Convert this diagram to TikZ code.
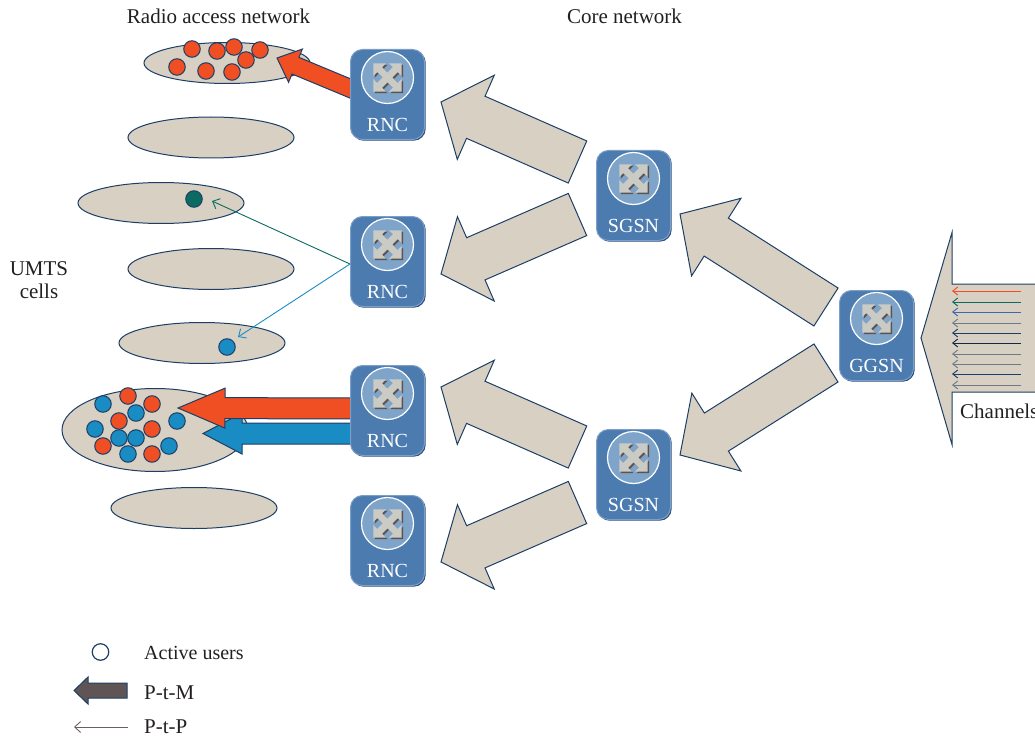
\documentclass[tikz,border=0pt]{standalone}
\usepackage{fontspec}
\setmainfont{Liberation Serif}
\usetikzlibrary{arrows.meta,backgrounds,calc,shadows,shapes.geometric}

\definecolor{cellbeige}{HTML}{D8D0C3}
\definecolor{navyline}{HTML}{1D3F66}
\definecolor{boxblue}{HTML}{4C7BB0}
\definecolor{boxedge}{HTML}{7C9FC8}
\definecolor{boxdark}{HTML}{284A78}
\definecolor{discblue}{HTML}{7FA4CA}
\definecolor{glyphlight}{HTML}{CBCBC5}
\definecolor{glyphdark}{HTML}{5E5250}
\definecolor{userred}{HTML}{F04E23}
\definecolor{userblue}{HTML}{1A8CC4}
\definecolor{userteal}{HTML}{0B6B62}
\definecolor{chanblue}{HTML}{3F66B0}
\definecolor{changrey}{HTML}{6E7B87}
\definecolor{channavy}{HTML}{14284A}
\definecolor{legendgrey}{HTML}{5F5555}
\definecolor{legendthin}{HTML}{6B5E5E}
\definecolor{textgrey}{HTML}{231F20}

\tikzset{
  every node/.style={font=\fontsize{20}{24}\selectfont, text=textgrey},
  bigtext/.style={font=\fontsize{21}{23}\selectfont, inner sep=0pt},
  cell/.style={ellipse, draw=navyline, fill=cellbeige, line width=1pt, inner sep=0pt, minimum width=166pt, minimum height=41pt},
  bigcell/.style={cell, minimum width=186pt, minimum height=83pt},
  udot/.style={circle, draw=navyline, line width=1pt, inner sep=0pt, minimum size=16.5pt},
  netbox/.style={rectangle, rounded corners=12pt, draw=boxedge, fill=boxblue, line width=1pt, inner sep=0pt, minimum width=74pt, minimum height=90pt,
    drop shadow={shadow xshift=1.2pt, shadow yshift=-1.2pt, fill=boxdark, opacity=1}},
  netlabel/.style={anchor=south, yshift=7pt, text=white, inner sep=1pt},
  netdisc/.style={circle, draw=white, fill=discblue, line width=1.2pt, inner sep=0pt, minimum size=52pt},
  blockarrow/.style={draw=navyline, fill=cellbeige, line width=1pt, line join=miter},
  thinarrow/.style={line width=0.9pt, -{Straight Barb[length=6pt, width=11pt]}},
  chanarrow/.style={line width=0.9pt, -{Straight Barb[length=5pt, width=8pt]}},
  crossglyph/.pic={
    \fill[pic actions, rotate=45] (3.5,-3.5) -- (11,-3.5) -- (11,-9) -- (20,0) -- (11,9) -- (11,3.5) -- (3.5,3.5)
      -- (3.5,11) -- (9,11) -- (0,20) -- (-9,11) -- (-3.5,11) -- (-3.5,3.5)
      -- (-11,3.5) -- (-11,9) -- (-20,0) -- (-11,-9) -- (-11,-3.5) -- (-3.5,-3.5)
      -- (-3.5,-11) -- (-9,-11) -- (0,-20) -- (9,-11) -- (3.5,-11) -- cycle;
  }
}

% name, position, text
\newcommand{\netnode}[3]{
  \node[netbox, label={[netlabel]south:#3}] (#1) at (#2) {};
  \node[netdisc] (#1disc) at ([yshift=17pt]#1.center) {};
  \pic[fill=glyphdark] at ([xshift=1.5pt, yshift=-1.5pt]#1disc.center) {crossglyph};
  \pic[fill=glyphlight] at (#1disc.center) {crossglyph};
}

% style, tail, tip, half shaft, half head, head length
\newcommand{\bigarrow}[6]{
  \begin{scope}[on background layer]
  \coordinate (headbase) at ($(#3)!#6pt!(#2)$);
  \draw[#1] (#3) -- ($(headbase)!#5pt!90:(#3)$) -- ($(headbase)!#4pt!90:(#3)$)
    -- ($(#2)!#4pt!90:(#3)$) -- ($(#2)!#4pt!-90:(#3)$)
    -- ($(headbase)!#4pt!-90:(#3)$) -- ($(headbase)!#5pt!-90:(#3)$) -- cycle;
  \end{scope}
}

\begin{document}
\begin{tikzpicture}[x=1pt, y=-1pt]
\useasboundingbox (0,0) rectangle (1035,738);
\clip (0,0) rectangle (1035,738);

% Draw the network elements
\netnode{rncA}{387.5,94.5}{RNC}
\netnode{rncB}{387.5,261.5}{RNC}
\netnode{rncC}{387.5,410.5}{RNC}
\netnode{rncD}{387.5,540.5}{RNC}
\netnode{sgsnA}{633.5,195.5}{SGSN}
\netnode{sgsnB}{633.5,474.5}{SGSN}
\netnode{ggsn}{876.5,335.5}{GGSN}

% Draw the cells and the active users
\begin{scope}[on background layer]
\node[cell] (cellA) at (227,63) {};
\node[cell] (cellB) at (211,137.5) {};
\node[cell] (cellC) at (161,203) {};
\node[cell] (cellD) at (211,269) {};
\node[cell] (cellE) at (202,343) {};
\node[bigcell] (cellF) at (155,430) {};
\node[cell] (cellG) at (194,508) {};
\node[udot, fill=userred] (uA1) at (192,49) {};
\node[udot, fill=userred] (uA2) at (217,51) {};
\node[udot, fill=userred] (uA3) at (234,47) {};
\node[udot, fill=userred] (uA4) at (260,50) {};
\node[udot, fill=userred] (uA5) at (246,60) {};
\node[udot, fill=userred] (uA6) at (177,67) {};
\node[udot, fill=userred] (uA7) at (206,71) {};
\node[udot, fill=userred] (uA8) at (232,72) {};
\node[udot, fill=userteal] (uC1) at (194,199) {};
\node[udot, fill=userblue] (uE1) at (227,347) {};
\node[udot, fill=userblue] (uF1) at (103,404) {};
\node[udot, fill=userred] (uF2) at (128,396) {};
\node[udot, fill=userred] (uF3) at (152,404) {};
\node[udot, fill=userblue] (uF4) at (136,413) {};
\node[udot, fill=userred] (uF5) at (119,421) {};
\node[udot, fill=userblue] (uF6) at (177,421) {};
\node[udot, fill=userblue] (uF7) at (95,429) {};
\node[udot, fill=userred] (uF8) at (152,429) {};
\node[udot, fill=userblue] (uF9) at (119,438) {};
\node[udot, fill=userblue] (uF10) at (136,438) {};
\node[udot, fill=userred] (uF11) at (103,446) {};
\node[udot, fill=userblue] (uF12) at (169,446) {};
\node[udot, fill=userblue] (uF13) at (128,454) {};
\node[udot, fill=userred] (uF14) at (152,454) {};
\end{scope}

% Big arrows of the core network
\coordinate (arrAs) at ($(sgsnA)+(-56,-33.5)$);
\coordinate (arrAt) at ($(rncA)+(53.5,7.5)$);
\bigarrow{blockarrow}{arrAs}{arrAt}{23}{46}{38}
\coordinate (arrBs) at ($(sgsnA)+(-56,19)$);
\coordinate (arrBt) at ($(rncB)+(53.5,12.5)$);
\bigarrow{blockarrow}{arrBs}{arrBt}{23}{46}{38}
\coordinate (arrCs) at ($(sgsnB)+(-56,-27.5)$);
\coordinate (arrCt) at ($(rncC)+(53.5,-23.5)$);
\bigarrow{blockarrow}{arrCs}{arrCt}{23}{46}{38}
\coordinate (arrDs) at ($(sgsnB)+(-56,28)$);
\coordinate (arrDt) at ($(rncD)+(53.5,21.5)$);
\bigarrow{blockarrow}{arrDs}{arrDt}{23}{46}{38}
\coordinate (arrEs) at ($(ggsn)+(-50.5,-28.5)$);
\coordinate (arrEt) at ($(sgsnA)+(46.5,18.5)$);
\bigarrow{blockarrow}{arrEs}{arrEt}{22.5}{46}{43}
\coordinate (arrFs) at ($(ggsn)+(-50.5,27.5)$);
\coordinate (arrFt) at ($(sgsnB)+(46.5,-19.5)$);
\bigarrow{blockarrow}{arrFs}{arrFt}{22.5}{46}{43}

% P-t-M arrows into the cells
\coordinate (ptmAs) at ($(rncA)+(-27.5,-2)$);
\coordinate (ptmAt) at ($(cellA)+(50,-5)$);
\bigarrow{blockarrow, fill=userred}{ptmAs}{ptmAt}{9}{18}{20}
\coordinate (ptmBs) at ($(rncC)+(-27.5,23)$);
\coordinate (ptmBt) at ($(cellF)+(48,3.5)$);
\bigarrow{blockarrow, fill=userblue}{ptmBs}{ptmBt}{10.5}{20.5}{39}
\coordinate (ptmCs) at ($(rncC)+(-27.5,-2)$);
\coordinate (ptmCt) at ($(cellF)+(23,-22)$);
\bigarrow{blockarrow, fill=userred}{ptmCs}{ptmCt}{10.5}{20}{47}

% P-t-P arrows
\coordinate (ptpA) at ($(rncB.west)+(0,2.5)$);
\coordinate (ptpAt) at (212,201);
\coordinate (ptpBt) at (238,337);
\draw[thinarrow, userteal] (ptpA) -- (ptpAt);
\draw[thinarrow, userblue] (ptpA) -- (ptpBt);

% Channels
\coordinate (chanTip) at (921,338);
\draw[blockarrow] (1040,284) -- (952,284) -- (952,232.5) -- (chanTip) -- (952,444.5) -- (952,392) -- (1040,392);
\coordinate (ch1s) at (1021,291);
\coordinate (ch1t) at (952,291);
\draw[chanarrow, userred] (ch1s) -- (ch1t);
\coordinate (ch2s) at (1021,302);
\coordinate (ch2t) at (952,302);
\draw[chanarrow, userteal] (ch2s) -- (ch2t);
\coordinate (ch3s) at (1021,312);
\coordinate (ch3t) at (952,312);
\draw[chanarrow, chanblue] (ch3s) -- (ch3t);
\coordinate (ch4s) at (1021,323);
\coordinate (ch4t) at (952,323);
\draw[chanarrow, changrey] (ch4s) -- (ch4t);
\coordinate (ch5s) at (1021,333);
\coordinate (ch5t) at (952,333);
\draw[chanarrow, navyline] (ch5s) -- (ch5t);
\coordinate (ch6s) at (1021,343);
\coordinate (ch6t) at (952,343);
\draw[chanarrow, channavy] (ch6s) -- (ch6t);
\coordinate (ch7s) at (1021,354);
\coordinate (ch7t) at (952,354);
\draw[chanarrow, changrey] (ch7s) -- (ch7t);
\coordinate (ch8s) at (1021,364);
\coordinate (ch8t) at (952,364);
\draw[chanarrow, changrey] (ch8s) -- (ch8t);
\coordinate (ch9s) at (1021,374);
\coordinate (ch9t) at (952,374);
\draw[chanarrow, navyline] (ch9s) -- (ch9t);
\coordinate (ch10s) at (1021,385);
\coordinate (ch10t) at (952,385);
\draw[chanarrow, changrey] (ch10s) -- (ch10t);
\node[bigtext, anchor=west] (chanText) at (960,411) {Channels};

% Headings
\node[bigtext] (radioText) at (218.5,16) {Radio access network};
\node[bigtext] (coreText) at (624.5,16) {Core network};
\node[bigtext, align=center] (umtsText) at (39,280) {UMTS\\cells};

% Legend
\node[circle, draw=navyline, fill=white, line width=1.2pt, inner sep=0pt, minimum size=16.5pt] (legUser) at (100.5,652) {};
\node[anchor=west, inner sep=0pt] (legUserText) at (144,653) {Active users};
\coordinate (legMs) at (127,690.5);
\coordinate (legMt) at (74,690.5);
\bigarrow{blockarrow, fill=legendgrey}{legMs}{legMt}{7.5}{13.5}{14}
\node[bigtext, anchor=west] (legMText) at (144,692.5) {P-t-M};
\coordinate (legPs) at (128,727);
\coordinate (legPt) at (74,727);
\draw[thinarrow, legendthin] (legPs) -- (legPt);
\node[bigtext, anchor=west] (legPText) at (144,727) {P-t-P};
\end{tikzpicture}
\end{document}
